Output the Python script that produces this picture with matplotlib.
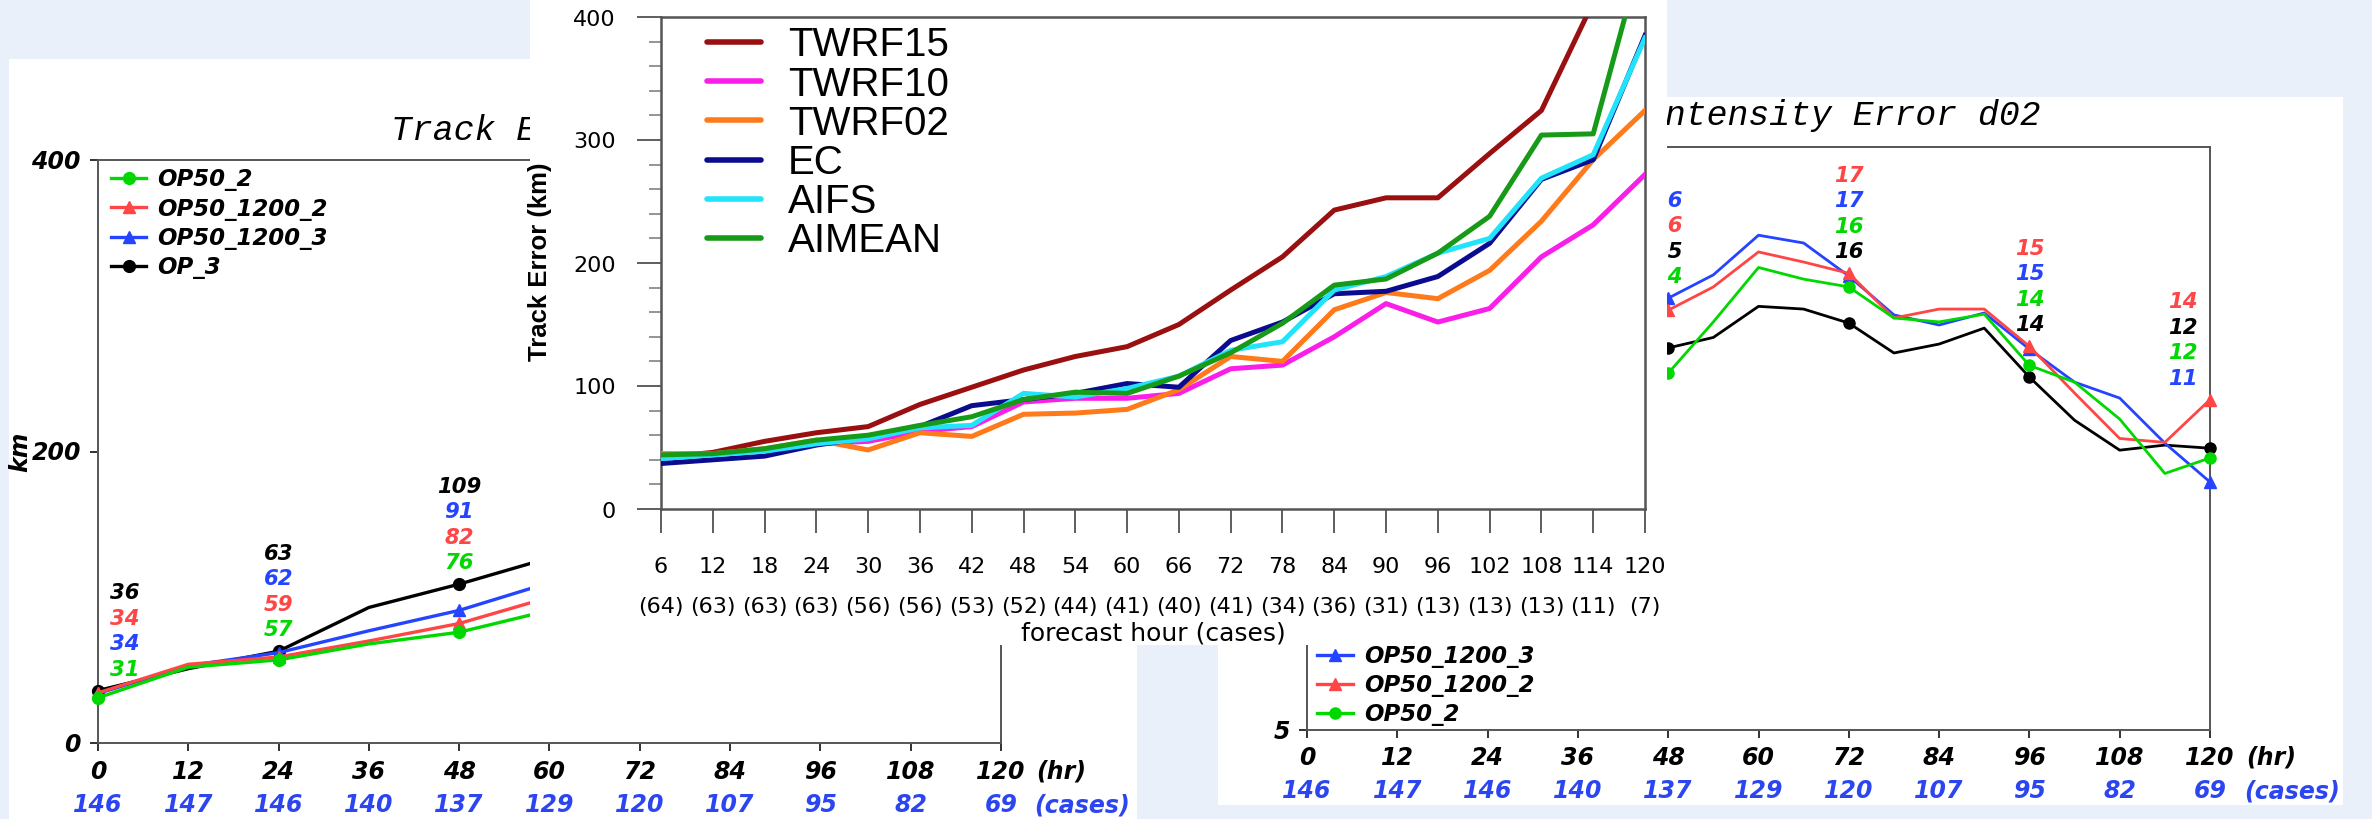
import matplotlib
matplotlib.use('Agg')
import matplotlib.pyplot as plt
from matplotlib.lines import Line2D
from matplotlib.patches import Rectangle
from matplotlib.transforms import blended_transform_factory as blend

W, H, DPI = 2372, 819, 100

# ------------------------------------------------------------------ data
axis_hours = [0, 12, 24, 36, 48, 60, 72, 84, 96, 108, 120]
axis_cases = [146, 147, 146, 140, 137, 129, 120, 107, 95, 82, 69]

series_names = ['OP50_2', 'OP50_1200_2', 'OP50_1200_3', 'OP_3']

# left panel: Track Error d02 (km)
track_hours = [0, 12, 24, 36, 48, 60]
track_op50_2 = [31, 52, 57, 68, 76, 91]
track_op50_1200_2 = [34.4, 54, 59, 70, 82, 100]
track_op50_1200_3 = [34, 53, 62, 77, 91, 110]
track_op_3 = [36, 51, 63, 93, 109, 127]
track_label_hours = [0, 24, 48]
track_lbl_op50_2 = [31, 57, 76]
track_lbl_op50_1200_2 = [34, 59, 82]
track_lbl_op50_1200_3 = [34, 62, 91]
track_lbl_op_3 = [36, 63, 109]

# right panel: Intensity Error d02
inten_hours = [48, 54, 60, 66, 72, 78, 84, 90, 96, 102, 108, 114, 120]
inten_op50_2 = [14.18, 15.5, 16.9, 16.6, 16.4, 15.6, 15.5, 15.7, 14.38, 13.95, 13.0, 11.6, 12.0]
inten_op50_1200_2 = [15.8, 16.4, 17.3, 17.04, 16.75, 15.6, 15.83, 15.83, 14.87, 13.67, 12.5, 12.4, 13.5]
inten_op50_1200_3 = [16.11, 16.71, 17.73, 17.53, 16.68, 15.68, 15.42, 15.73, 14.8, 13.95, 13.54, 12.38, 11.38]
inten_op_3 = [14.83, 15.1, 15.9, 15.83, 15.47, 14.7, 14.93, 15.34, 14.08, 12.97, 12.2, 12.33, 12.25]
inten_label_hours = [48, 72, 96, 120]
inten_lbl_op50_2 = [14, 16, 14, 12]
inten_lbl_op50_1200_2 = [16, 17, 15, 14]
inten_lbl_op50_1200_3 = [16, 17, 15, 11]
inten_lbl_op_3 = [15, 16, 14, 12]

# middle panel: Track Error (km) for 6 models
mid_hours = [6, 12, 18, 24, 30, 36, 42, 48, 54, 60, 66, 72, 78, 84, 90, 96, 102, 108, 114, 120]
mid_cases = [64, 63, 63, 63, 56, 56, 53, 52, 44, 41, 40, 41, 34, 36, 31, 13, 13, 13, 11, 7]
mid_names = ['TWRF15', 'TWRF10', 'TWRF02', 'EC', 'AIFS', 'AIMEAN']
twrf15 = [42, 46, 55, 62, 67, 85, 99, 113, 124, 132, 150, 178, 205, 243, 253, 253, 289, 324, 412, 460]
twrf10 = [41, 45, 48, 53, 55, 63, 67, 87, 90, 90, 94, 114, 117, 140, 167, 152, 163, 205, 231, 272]
twrf02 = [45, 45, 49, 56, 48, 62, 59, 77, 78, 81, 97, 124, 120, 162, 176, 171, 194, 234, 284, 324]
ec = [37, 40, 43, 52, 58, 67, 84, 89, 94, 102, 99, 137, 152, 175, 177, 189, 216, 268, 284, 385]
aifs = [41, 44, 47, 53, 57, 66, 68, 94, 91, 98, 108, 129, 136, 178, 189, 208, 220, 269, 288, 383]
aimean = [44, 45, 49, 56, 60, 68, 75, 89, 95, 94, 108, 127, 151, 182, 187, 208, 238, 304, 305, 460]

# ------------------------------------------------------------------ style
BG = '#EAF0FA'
CASE_BLUE = '#2B45F0'
ser_color = {'OP50_2': '#00D800', 'OP50_1200_2': '#FF4545', 'OP50_1200_3': '#2444FF', 'OP_3': '#000000'}
ser_marker = {'OP50_2': 'o', 'OP50_1200_2': '^', 'OP50_1200_3': '^', 'OP_3': 'o'}
mid_colors = ['#9A0F0F', '#FA1FE8', '#FF7A1A', '#0B0B8F', '#22E3FA', '#179A17']

BI = dict(family='DejaVu Sans', weight='bold', style='oblique')
tickfont = dict(size=17, **BI)
lblfont = dict(size=15.3, **BI)
legfont = dict(size=16.5, **BI)
titlefont = dict(family='Liberation Mono', style='italic', size=25)
midtick = dict(family='DejaVu Sans', size=16)

fig = plt.figure(figsize=(W / DPI, H / DPI), dpi=DPI)
fig.patch.set_facecolor(BG)
FT = fig.transFigure


def fx(px):
    return px / W


def fy(py):
    return 1 - py / H


def box(x0, y0, x1, y1):
    return [x0 / W, 1 - y1 / H, (x1 - x0) / W, (y1 - y0) / H]


def panel(x0, y0, x1, y1, z):
    fig.add_artist(Rectangle((x0 / W, 1 - y1 / H), (x1 - x0) / W, (y1 - y0) / H,
                             transform=FT, facecolor='white', edgecolor='none', zorder=z))


def side_axes(rect, z, ylim, yticks):
    ax = fig.add_axes(rect)
    ax.set_zorder(z)
    ax.set_xlim(0, 120)
    ax.set_ylim(*ylim)
    ax.set_xticks(axis_hours)
    ax.set_yticks(yticks)
    ax.set_xticklabels([])
    ax.set_yticklabels([])
    ax.tick_params(direction='out', length=5.8, width=1.3, color='#222')
    for sp in ax.spines.values():
        sp.set_linewidth(1.4)
        sp.set_color('#555555')
    return ax


def side_ticklabels(ax, y_lab, y_case, hr_x, ylab_right, yticks):
    t = blend(ax.transData, FT)
    for h, c in zip(axis_hours, axis_cases):
        ax.text(h, fy(y_lab), str(h), transform=t, ha='center', va='baseline', **tickfont)
        ax.text(h, fy(y_case), str(c), transform=t, ha='center', va='baseline', color=CASE_BLUE, **tickfont)
    ax.text(fx(hr_x), fy(y_lab), '(hr)', transform=FT, ha='left', va='baseline', **tickfont)
    ax.text(fx(hr_x - 2), fy(y_case), '(cases)', transform=FT, ha='left', va='baseline',
            color=CASE_BLUE, **tickfont)
    for v in yticks:
        ax.annotate(str(v), xy=(fx(ylab_right), v), xycoords=blend(FT, ax.transData),
                    xytext=(0, -8.6), textcoords='offset pixels', ha='right', va='baseline',
                    annotation_clip=False, **tickfont)


def side_series(ax, hours, data, lw, ms):
    every = [i for i, h in enumerate(hours) if h % 24 == 0]
    for name in ['OP_3', 'OP50_1200_3', 'OP50_1200_2', 'OP50_2']:
        ax.plot(hours, data[name], color=ser_color[name], lw=lw, marker=ser_marker[name],
                ms=ms, markevery=every, clip_on=False, zorder=3)


def side_labels(ax, label_hours, hours, data, labels):
    for j, h in enumerate(label_hours):
        i = hours.index(h)
        entries = [(labels[n][j], data[n][i], ser_color[n]) for n in series_names]
        entries.sort(key=lambda e: (e[0], e[1]), reverse=True)
        top = max(e[1] for e in entries)
        dx = 27 if h == 0 else (-27 if h == 120 else 0)
        n = len(entries)
        for k, (lab, v, c) in enumerate(entries):
            ax.annotate(str(lab), xy=(h, top), xytext=(dx, 15 + 25.5 * (n - 1 - k)),
                        textcoords='offset pixels', ha='center', va='baseline', color=c,
                        annotation_clip=False, **lblfont)


def side_legend(ax, order, x0, x1, ytop, step, ms):
    for k, name in enumerate(order):
        y = ytop + step * k
        ax.add_line(Line2D([fx(x0), fx(x1)], [fy(y), fy(y)], transform=FT, color=ser_color[name],
                           lw=2.4, clip_on=False))
        ax.add_line(Line2D([fx((x0 + x1) / 2)], [fy(y)], transform=FT, color=ser_color[name],
                           marker=ser_marker[name], ms=ms, lw=0, clip_on=False))
        ax.text(fx(x1 + 11), fy(y + 8.4), name, transform=FT, ha='left', va='baseline', **legfont)


# ------------------------------------------------------------------ left panel
panel(9, 59, 1137, 819, 1)
axL = side_axes(box(98, 160, 1001, 743), 2, (0, 400), [0, 200, 400])
track = {'OP50_2': track_op50_2, 'OP50_1200_2': track_op50_1200_2,
         'OP50_1200_3': track_op50_1200_3, 'OP_3': track_op_3}
track_lbl = {'OP50_2': track_lbl_op50_2, 'OP50_1200_2': track_lbl_op50_1200_2,
             'OP50_1200_3': track_lbl_op50_1200_3, 'OP_3': track_lbl_op_3}
side_series(axL, track_hours, track, 2.4, 8.5)
side_labels(axL, track_label_hours, track_hours, track, track_lbl)
side_ticklabels(axL, 779, 812, 1036, 81, [0, 200, 400])
side_legend(axL, series_names, 111, 146, 178, 29.3, 8.5)
axL.text(fx(20), fy(452), 'km', transform=FT, rotation=90, ha='center', va='center', **tickfont)
axL.text(fx(391), fy(140), 'Track Error d02', transform=FT, ha='left', va='baseline', **titlefont)

# ------------------------------------------------------------------ right panel
panel(1218, 97, 2343, 805, 3)
axR = side_axes(box(1307, 147, 2210, 730), 4, (5, 20), [5, 10, 15, 20])
inten = {'OP50_2': inten_op50_2, 'OP50_1200_2': inten_op50_1200_2,
         'OP50_1200_3': inten_op50_1200_3, 'OP_3': inten_op_3}
inten_lbl = {'OP50_2': inten_lbl_op50_2, 'OP50_1200_2': inten_lbl_op50_1200_2,
             'OP50_1200_3': inten_lbl_op50_1200_3, 'OP_3': inten_lbl_op_3}
side_series(axR, inten_hours, inten, 2.0, 8)
side_labels(axR, inten_label_hours, inten_hours, inten, inten_lbl)
side_ticklabels(axR, 765, 798, 2246, 1290, [5, 10, 15, 20])
side_legend(axR, series_names[::-1], 1317, 1353, 626, 29, 8)
axR.text(fx(2041), fy(125), 'Intensity Error d02', transform=FT, ha='right', va='baseline', **titlefont)

# ------------------------------------------------------------------ middle panel
panel(530, 0, 1667, 645, 5)
axM = fig.add_axes(box(661, 17, 1645, 509))
axM.set_zorder(6)
axM.set_xlim(6, 120)
axM.set_ylim(0, 400)
axM.set_xticks(mid_hours)
axM.set_yticks(range(0, 401, 100))
axM.set_yticks(range(0, 401, 20), minor=True)
axM.set_xticklabels([])
axM.set_yticklabels([])
axM.tick_params(which='major', direction='out', length=17.3, width=1.1, color='#333333')
axM.tick_params(which='minor', direction='out', length=8.6, width=1.1, color='#777777')
for sp in axM.spines.values():
    sp.set_linewidth(1.8)
    sp.set_color('#555555')

mid_data = [twrf15, twrf10, twrf02, ec, aifs, aimean]
for name, vals, col in zip(mid_names, mid_data, mid_colors):
    axM.plot(mid_hours, vals, color=col, lw=3.6, solid_joinstyle='round', zorder=3)

tM = blend(axM.transData, FT)
for h, c in zip(mid_hours, mid_cases):
    axM.text(h, fy(573), str(h), transform=tM, ha='center', va='baseline', **midtick)
    axM.text(h, fy(613), '(%d)' % c, transform=tM, ha='center', va='baseline', **midtick)
axM.text(fx(1153), fy(641), 'forecast hour (cases)', transform=FT, ha='center', va='baseline',
         family='DejaVu Sans', size=18)
for v in range(0, 401, 100):
    axM.annotate(str(v), xy=(fx(616), v), xycoords=blend(FT, axM.transData),
                 xytext=(0, -8.5), textcoords='offset pixels', ha='right', va='baseline',
                 annotation_clip=False, **midtick)
axM.text(fx(540), fy(262), 'Track Error (km)', transform=FT, rotation=90, ha='center', va='center',
         family='Liberation Sans', weight='bold', size=18.5)

for k, (name, col) in enumerate(zip(mid_names, mid_colors)):
    y = 42 + 39.2 * k
    axM.add_line(Line2D([fx(707), fx(761)], [fy(y), fy(y)], transform=FT, color=col, lw=4,
                        solid_capstyle='round', clip_on=False))
    axM.text(fx(788), fy(y + 14.4), name, transform=FT, ha='left', va='baseline',
             family='Liberation Sans', size=29)

fig.savefig('out.png', dpi=DPI, facecolor=BG)
